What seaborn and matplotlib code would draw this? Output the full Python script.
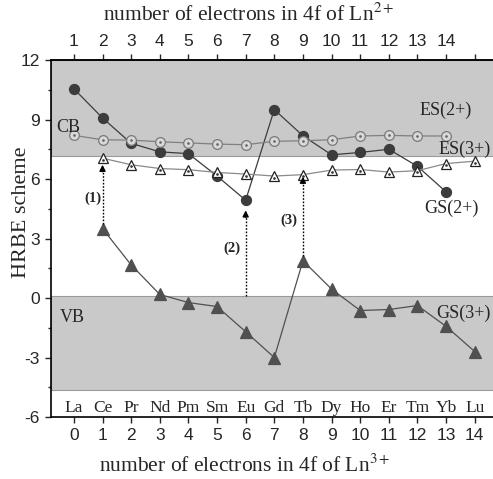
import matplotlib
matplotlib.use("Agg")
import matplotlib.pyplot as plt
import seaborn as sns
import pandas as pd

# Lanthanide series and electron counts
elements = ["La", "Ce", "Pr", "Nd", "Pm", "Sm", "Eu", "Gd", "Tb", "Dy", "Ho", "Er", "Tm", "Yb", "Lu"]
n_ln3 = list(range(15))

# Energy levels (eV) for each lanthanide
gs2_x = list(range(0, 14))
gs2 = [10.55, 9.08, 7.8, 7.37, 7.28, 6.15, 4.93, 9.5, 8.18, 7.22, 7.34, 7.5, 6.64, 5.35]
es2_x = list(range(0, 14))
es2 = [8.2, 7.98, 7.96, 7.88, 7.82, 7.76, 7.73, 7.9, 7.93, 7.98, 8.17, 8.2, 8.17, 8.17]
es3_x = list(range(1, 15))
es3 = [7.05, 6.72, 6.53, 6.47, 6.33, 6.25, 6.15, 6.22, 6.45, 6.48, 6.35, 6.42, 6.78, 6.9]
gs3_x = list(range(1, 15))
gs3 = [3.5, 1.67, 0.18, -0.23, -0.43, -1.7, -3.0, 1.88, 0.45, -0.63, -0.58, -0.38, -1.43, -2.7]

# Band edges
cb_bottom, cb_top = 7.15, 12.0
vb_bottom, vb_top = -4.65, 0.1

y_ticks = [-6, -3, 0, 3, 6, 9, 12]

sns.set_style("ticks")
plt.rcParams["font.family"] = ["Liberation Serif", "DejaVu Serif"]
plt.rcParams["axes.unicode_minus"] = False
plt.rcParams["mathtext.fontset"] = "stix"

fig = plt.figure(figsize=(4.93, 4.79), dpi=100)
ax = fig.add_axes([0.1034, 0.1294, 0.906, 0.7453])
ax.set_xlim(-0.8, 14.8)
ax.set_ylim(-6, 12)

band_col = "#c9c9c9"
ax.axhspan(cb_bottom, cb_top, facecolor=band_col, edgecolor="#9a9a9a", lw=0.8, zorder=0)
ax.axhspan(vb_bottom, vb_top, facecolor=band_col, edgecolor="#9a9a9a", lw=0.8, zorder=0)

series = [
    (gs2_x, gs2, "#3c3c3c", "#3c3c3c", "o", 7.2, "#3c3c3c"),
    (es2_x, es2, "#d8d8d8", "#7a7a7a", "o", 7, "#808080"),
    (es3_x, es3, "white", "#222222", "^", 7.5, "#8a8a8a"),
    (gs3_x, gs3, "#505050", "#505050", "^", 8, "#505050"),
]
for xs, ys, fc, ec, mk, ms, lc in series:
    df = pd.DataFrame({"x": xs, "y": ys})
    sns.lineplot(data=df, x="x", y="y", ax=ax, color=lc, lw=0.9, marker=mk,
                 markersize=ms, markerfacecolor=fc, markeredgecolor=ec,
                 markeredgewidth=0.9, zorder=3)

# centre dots on the open markers
ax.scatter(es2_x, es2, s=0.8, color="#666666", zorder=4)
ax.scatter(es3_x, [v - 0.08 for v in es3], s=0.8, color="#333333", zorder=4)

# excitation arrows
arrows = [(1, 3.75, 6.72), (6, 0.1, 4.42), (8, 2.12, 6.12)]
for x, y0, y1 in arrows:
    ax.plot([x, x], [y0, y1 - 0.3], ls=(0, (1.2, 1.2)), color="black", lw=1.0, zorder=5)
    ax.annotate("", xy=(x, y1), xytext=(x, y1 - 0.35),
                arrowprops=dict(arrowstyle="-|>", color="black", lw=1.0,
                                mutation_scale=9, shrinkA=0, shrinkB=0), zorder=5)

for txt, x, y in [("(1)", 0.68, 5.05), ("(2)", 5.52, 2.5), ("(3)", 7.5, 3.9)]:
    ax.text(x, y, txt, ha="center", va="center", fontsize=10.5, fontweight="bold", zorder=6)

for txt, x, y in [("CB", -0.2, 8.6), ("VB", -0.07, -0.98), ("ES(2+)", 13.0, 9.45),
                  ("ES(3+)", 13.65, 7.5), ("GS(2+)", 13.2, 4.5), ("GS(3+)", 13.6, -0.75)]:
    ax.text(x, y, txt, ha="center", va="center", fontsize=13, zorder=6)

for i, el in enumerate(elements):
    ax.text(n_ln3[i], -5.55, el, ha="center", va="center", fontsize=12.5, zorder=6)

ax.set_yticks(y_ticks)
ax.set_yticks([v + 1.5 for v in y_ticks[:-1]], minor=True)
ax.set_xticks(n_ln3)
ax.tick_params(axis="both", which="major", direction="out", length=4.5, width=1, labelsize=12.5)
ax.tick_params(axis="y", which="minor", direction="out", length=2.5, width=1)
for lab in ax.get_xticklabels() + ax.get_yticklabels():
    lab.set_fontfamily("Liberation Sans")

ax.set_xlabel("number of electrons in 4f of Ln$^{3+}$", fontsize=15.5)
ax.xaxis.set_label_coords(0.434, -0.106)
ax.set_ylabel("HRBE scheme", fontsize=16)
ax.yaxis.set_label_coords(-0.045, 0.574)

top = ax.secondary_xaxis("top", functions=(lambda v: v + 1, lambda v: v - 1))
top.set_xticks(list(range(1, 16)))
top.set_xticklabels([str(i) for i in range(1, 15)] + [""])
top.tick_params(direction="out", length=4.5, width=1, labelsize=12.5)
for lab in top.get_xticklabels():
    lab.set_fontfamily("Liberation Sans")
top.set_xlabel("number of electrons in 4f of Ln$^{2+}$", fontsize=15.5)
top.xaxis.set_label_coords(0.443, 1.11, transform=ax.transAxes)

for s in ["left", "bottom", "top"]:
    ax.spines[s].set_linewidth(1.2)
    ax.spines[s].set_color("black")
top.spines["top"].set_linewidth(1.2)
ax.spines["right"].set_visible(False)

fig.savefig("out.png", dpi=100)
